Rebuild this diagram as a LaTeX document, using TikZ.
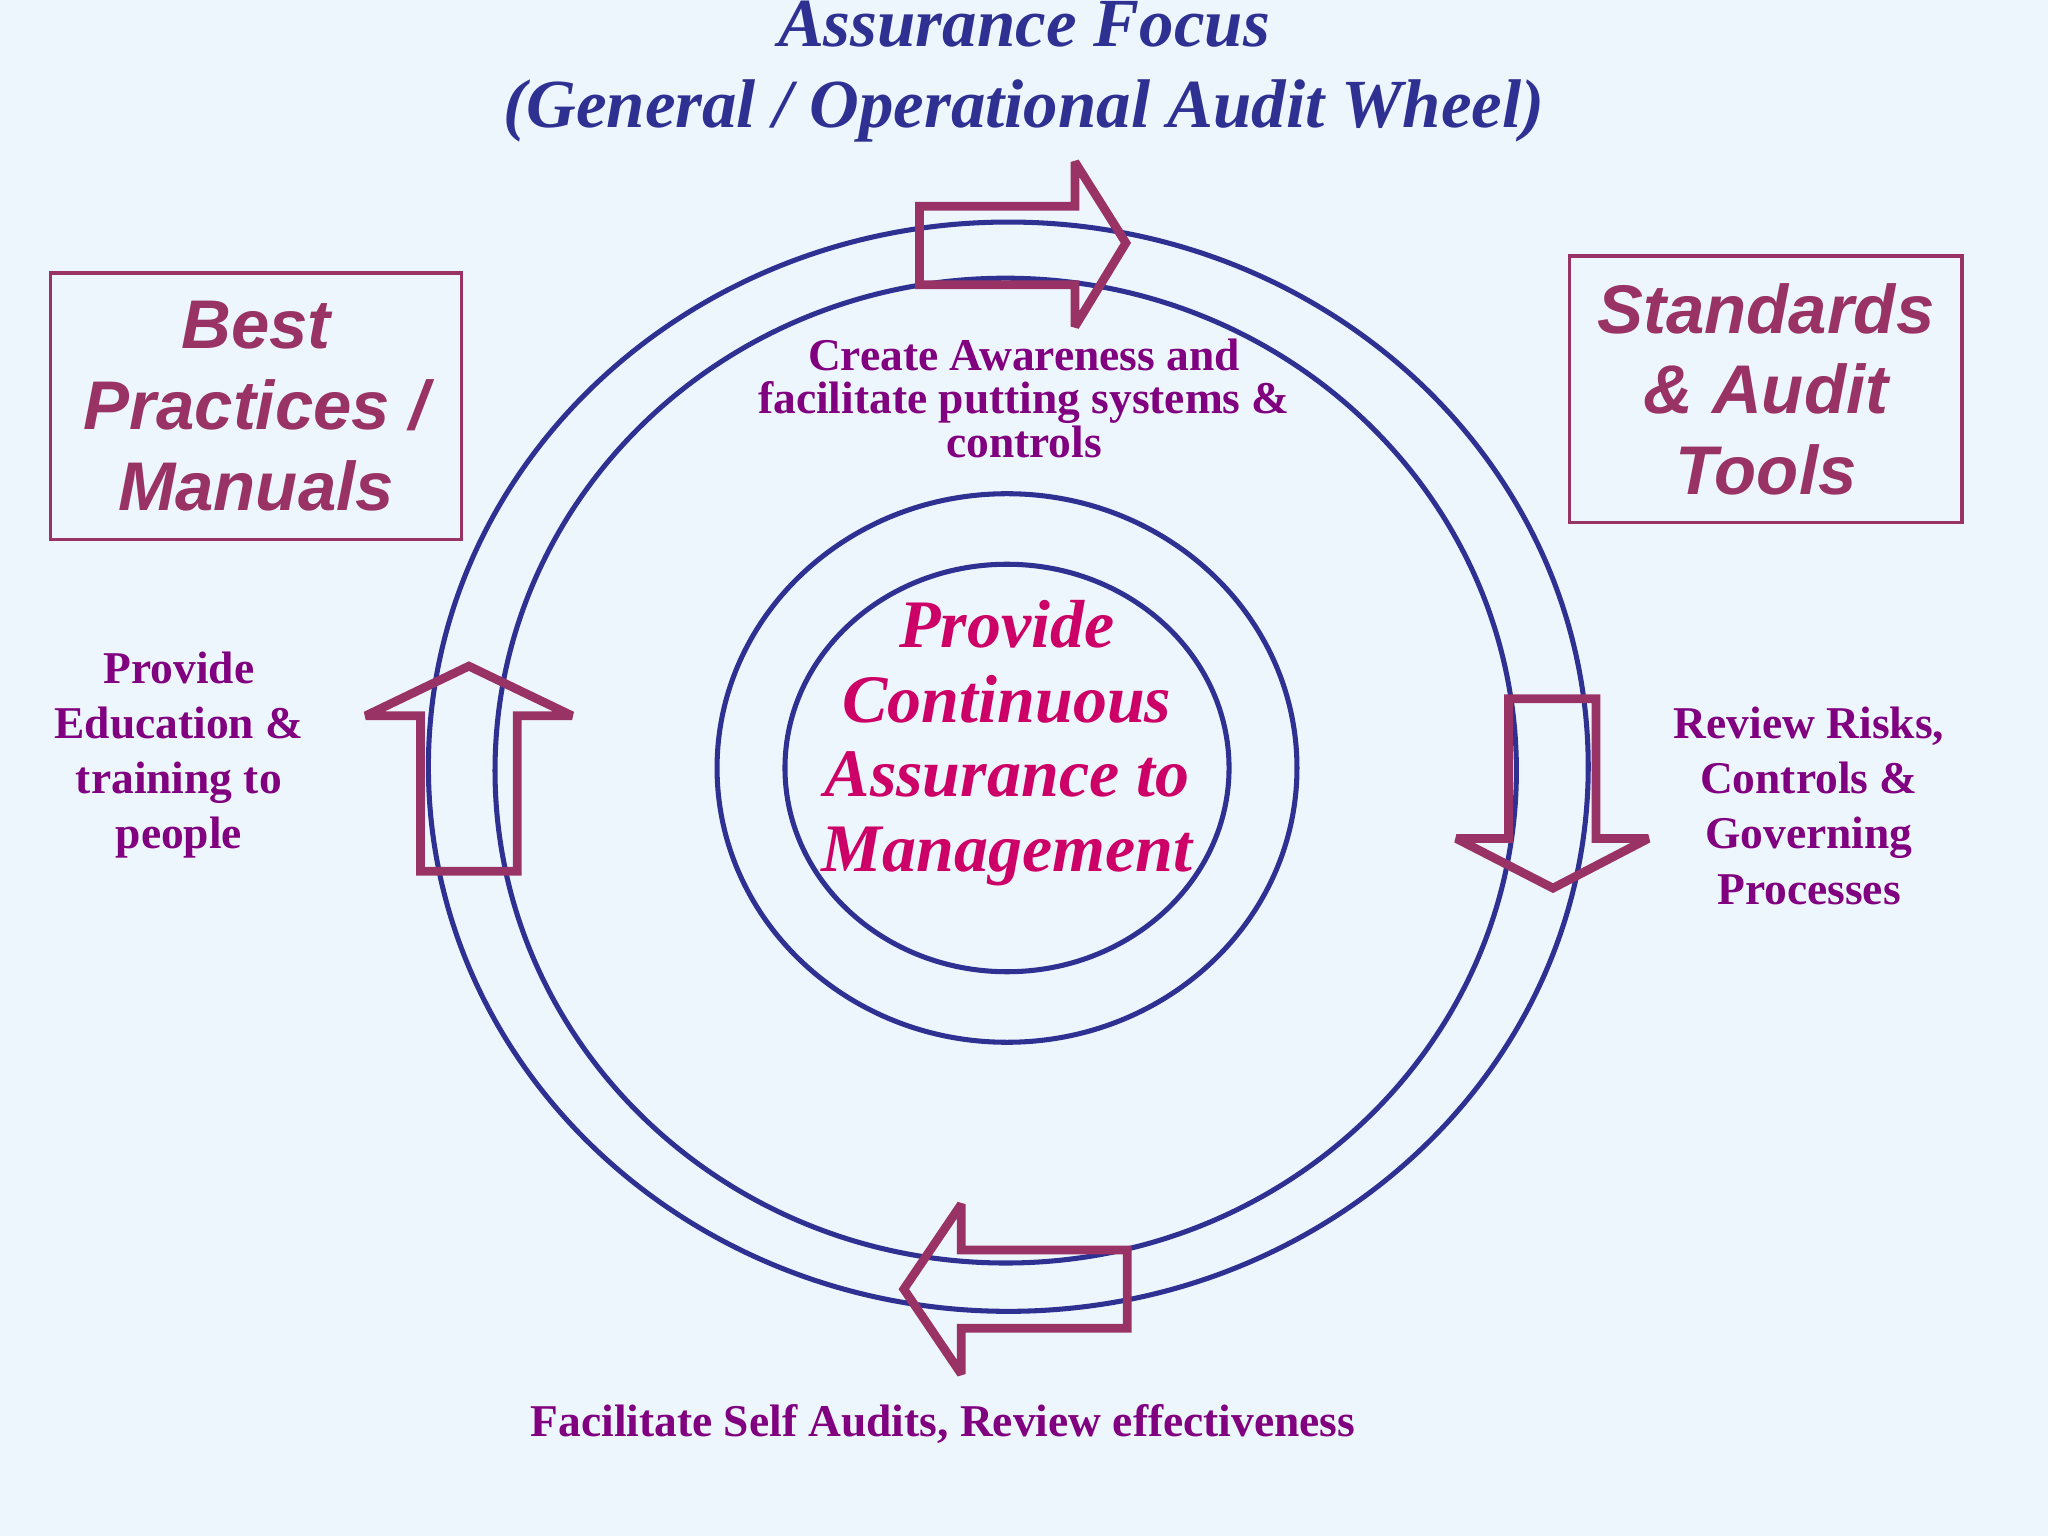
\documentclass[tikz,border=0pt]{standalone}
\usepackage{fontspec}
\setmainfont{Liberation Serif}
\newfontfamily\sansbi{Liberation Sans}
\usetikzlibrary{positioning}
\definecolor{bgblue}{HTML}{EEF6FD}
\definecolor{wheel}{HTML}{2E3192}
\definecolor{arrowred}{HTML}{993366}
\definecolor{labelpurple}{HTML}{800080}
\definecolor{centerpink}{HTML}{CC0066}
\tikzset{
  ring/.style={draw=wheel, line width=1.1pt},
  blockarrow/.style={draw=arrowred, line width=1.9pt, line join=miter, miter limit=3},
  label/.style={text=labelpurple, font=\bfseries\fontsize{9.9}{9.4}\selectfont, align=center},
  sidelabel/.style={text=labelpurple, font=\bfseries\fontsize{9.9}{12}\selectfont, align=center},
  boxtext/.style={draw=arrowred, line width=0.7pt, text=arrowred, align=center,
    font=\sansbi\bfseries\itshape\fontsize{15}{17.6}\selectfont}
}
\begin{document}
\begin{tikzpicture}[x=0.01cm, y=-0.01cm]
    %%%%% BACKGROUND
    \fill[bgblue] (0,0) rectangle (1568,1176);
    \useasboundingbox (0,0) rectangle (1568,1176);
    %%%%% TITLE
    \node[text=wheel, align=center, font=\bfseries\itshape\fontsize{15}{17.6}\selectfont]
      (title) at (784,55) {Assurance Focus\\(General / Operational Audit Wheel)};
    %%%%% THE WHEEL
    \draw[ring] (772,587) ellipse [x radius=444, y radius=417];
    \draw[ring] (770,590) ellipse [x radius=391, y radius=377];
    \draw[ring] (771,588) ellipse [x radius=222, y radius=210];
    \draw[ring] (771,588) ellipse [x radius=170, y radius=156];
    \node[text=centerpink, align=center, font=\bfseries\itshape\fontsize{14.8}{16.2}\selectfont]
      (centre) at (771,569) {Provide\\Continuous\\Assurance to\\Management};
    %%%%% BLOCK ARROWS
    \draw[blockarrow] (704,158) -- (823,158) -- (823,124) -- (862,186) -- (823,250)
      -- (823,218) -- (704,218) -- cycle;
    \draw[blockarrow] (1155,535) -- (1222,535) -- (1222,642) -- (1262,642) -- (1189,680)
      -- (1115,642) -- (1155,642) -- cycle;
    \draw[blockarrow] (863,957) -- (736,957) -- (736,922) -- (692,987) -- (736,1052)
      -- (736,1017) -- (863,1017) -- cycle;
    \draw[blockarrow] (322,667) -- (322,548) -- (280,548) -- (359,510) -- (438,548)
      -- (396,548) -- (396,667) -- cycle;
    %%%%% LABELS
    \node[label] (aware) at (784,305) {Create Awareness and\\facilitate putting systems \&\\controls};
    \node[sidelabel] (review) at (1385,617) {Review Risks,\\Controls \&\\Governing\\Processes};
    \node[label] (self) at (722,1090) {Facilitate Self Audits, Review effectiveness};
    \node[sidelabel] (educate) at (137,578) {Provide\\Education \&\\training to\\people};
    %%%%% BOXES
    \node[boxtext, minimum width=3.14cm, minimum height=2.04cm] (practices) at (196,311)
      {Best\\Practices /\\Manuals};
    \node[boxtext, minimum width=3.0cm, minimum height=2.04cm] (tools) at (1352,298)
      {Standards\\\& Audit\\Tools};
\end{tikzpicture}
\end{document}
